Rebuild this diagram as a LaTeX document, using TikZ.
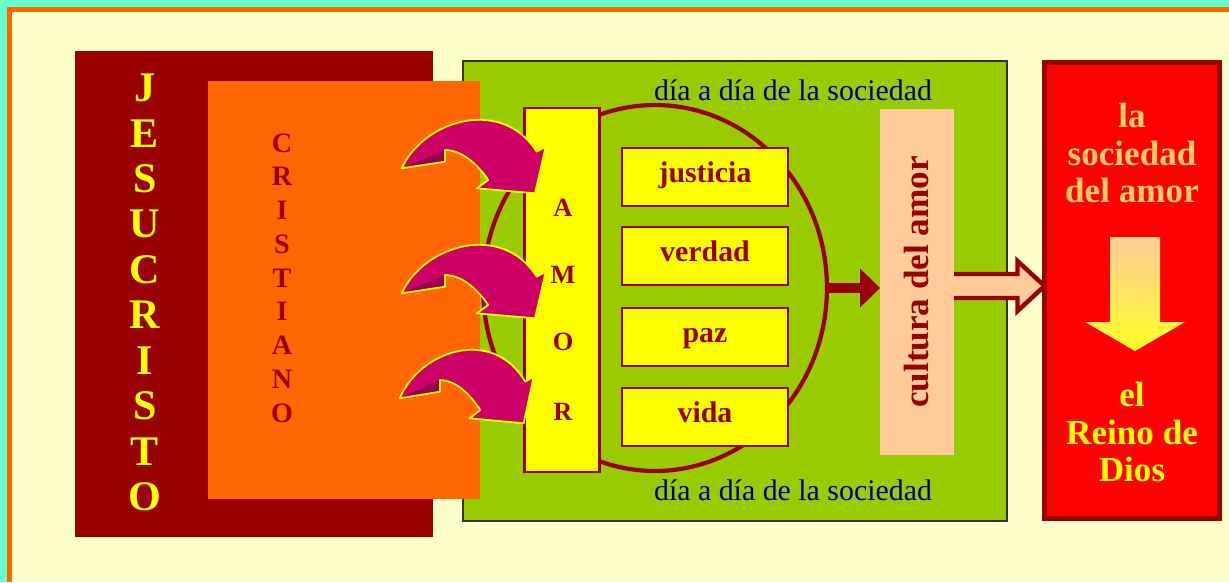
\documentclass[tikz,border=0pt]{standalone}
\usepackage{fontspec}
\setmainfont{Liberation Serif}
\usepackage{tikz}
\usetikzlibrary{arrows.meta,shapes.geometric,calc,positioning}

\definecolor{aqua}{HTML}{66FFCC}
\definecolor{frameorange}{HTML}{FF6600}
\definecolor{cream}{HTML}{FFFFCC}
\definecolor{maroon}{HTML}{990000}
\definecolor{leaf}{HTML}{99CC00}
\definecolor{lemon}{HTML}{FFFF00}
\definecolor{berry}{HTML}{CC0066}
\definecolor{darkberry}{HTML}{990055}
\definecolor{peach}{HTML}{FFCC99}
\definecolor{gold}{HTML}{FFCC66}
\definecolor{navy}{HTML}{000099}

\tikzset{
  jesusletter/.style={text=lemon, inner sep=0, font=\fontsize{24}{24}\selectfont\bfseries},
  cristletter/.style={text=maroon, inner sep=0, font=\fontsize{16}{16}\selectfont\bfseries},
  amorletter/.style={text=maroon, inner sep=0, font=\fontsize{15}{15}\selectfont\bfseries},
  wordbox/.style={fill=lemon, draw=maroon, line width=1.6pt, minimum width=3.32cm,
    minimum height=1.16cm, inner sep=0, text=maroon, text height=1.5ex, text depth=.25ex,
    font=\fontsize{17}{17}\selectfont\bfseries},
  dayline/.style={text=navy, font=\fontsize{17}{17}\selectfont},
  plainbox/.style={inner sep=0, outer sep=0}
}

\begin{document}
\begin{tikzpicture}[x=0.02cm,y=-0.02cm] %the path to the kingdom
    %the frame
    \fill[aqua] (0,0) rectangle (1229,582);
    \fill[frameorange] (7,7) rectangle (1229,582);
    \fill[cream] (12,12) rectangle (1229,582);
    \useasboundingbox (0,0) rectangle (1229,582);
%the big boxes
    \node[plainbox, fill=maroon, minimum width=7.16cm, minimum height=9.72cm] (jesus) at (254,294) {};
    \node[plainbox, fill=leaf, draw=black!80, line width=0.8pt, minimum width=10.88cm, minimum height=9.2cm] (society) at (735,291) {};
    \node[plainbox, fill=frameorange, minimum width=5.44cm, minimum height=8.36cm] (cristiano) at (344,290) {};
    \node[plainbox, ellipse, draw=maroon, line width=2.4pt, minimum width=6.88cm, minimum height=7.32cm] (ring) at (655,288) {};
    \node[plainbox, fill=lemon, draw=maroon, line width=1.6pt, minimum width=1.5cm, minimum height=7.28cm] (amor) at (562,290) {};
    \node[plainbox, fill=peach, minimum width=1.48cm, minimum height=6.92cm] (cultura) at (917,282) {};
    \node[plainbox, fill=red, draw=maroon, line width=3pt, minimum width=3.5cm, minimum height=9.12cm] (reino) at (1132,290.5) {};
%the letters
    \foreach \l [count=\i] in {J,E,S,U,C,R,I,S,T,O}
       \node[jesusletter] (j\i) at (145,{88+45.4*(\i-1)}) {\l};
    \foreach \l [count=\i] in {C,R,I,S,T,I,A,N,O}
       \node[cristletter] (c\i) at (282,{143+33.75*(\i-1)}) {\l};
    \foreach \l/\y [count=\i] in {A/208,M/275,O/342,R/412}
       \node[amorletter] (a\i) at (563,\y) {\l};
%the values
    \node[wordbox] (justicia) at (705,177) {justicia};
    \node[wordbox] (verdad) at (705,256) {verdad};
    \node[wordbox] (paz) at (705,337) {paz};
    \node[wordbox] (vida) at (705,417) {vida};
    \node[dayline] (daytop) at (793,90) {día a día de la sociedad};
    \node[dayline] (daybottom) at (793,490) {día a día de la sociedad};
    \node[rotate=90, text=maroon, font=\fontsize{20}{20}\selectfont\bfseries] (culturatext) at (cultura.center) {cultura del amor};
%the arrows
    \draw[maroon, line width=6pt, -{Triangle[length=0.4cm,width=0.76cm]}] (ring.east) -- (ring.east -| cultura.west);
    \path (cultura.east) ++(0,4) coordinate (hs);
    \path (hs -| reino.west) coordinate (ht);
    \fill[peach] ($(hs)+(0,-12)$) -- ($(ht)+(-27,-12)$) -- ($(ht)+(-27,-25)$) -- (ht)
       -- ($(ht)+(-27,25)$) -- ($(ht)+(-27,12)$) -- ($(hs)+(0,12)$) -- cycle;
    \draw[maroon, line width=2.5pt] ($(hs)+(0,-12)$) -- ($(ht)+(-27,-12)$) -- ($(ht)+(-27,-25)$) -- (ht)
       -- ($(ht)+(-27,25)$) -- ($(ht)+(-27,12)$) -- ($(hs)+(0,12)$);
    \foreach \dx/\dy/\s in {0/0/1,0/125/1,-2/230/0.93}{
    \begin{scope}[shift={({401.7+\dx},{168.3+\dy})}, xscale=\s]
       \fill[berry] (0,0) .. controls (22,-48) and (100,-72) .. (135,-16.6) -- (144,-21.6) -- (133.3,25)
          -- (75,20) -- (86.6,11.7) .. controls (75,-5) and (60,-18) .. (43.3,-18.3) -- (43.3,-6.6) -- cycle;
       \fill[darkberry] (0,0) -- (43.3,-18.3) -- (43.3,-6.6) -- cycle;
       \draw[lemon, line width=1pt, line join=round] (0,0) .. controls (22,-48) and (100,-72) .. (135,-16.6) -- (144,-21.6) -- (133.3,25)
          -- (75,20) -- (86.6,11.7) .. controls (75,-5) and (60,-18) .. (43.3,-18.3) -- (43.3,-6.6) -- cycle;
    \end{scope}}
%the kingdom
    \node[text=gold, align=center, font=\fontsize{20}{21.5}\selectfont\bfseries] (reinotop) at (1132,153) {la\\sociedad\\del amor};
    \shade[top color=peach, bottom color=lemon!85!white] (1110,237) -- (1160,237) -- (1160,322) -- (1185,322)
       -- (1135,351) -- (1085,322) -- (1110,322) -- cycle;
    \node[text=lemon, align=center, font=\fontsize{20}{21.5}\selectfont\bfseries] (reinobottom) at (1132,432) {el\\Reino de\\Dios};
\end{tikzpicture}
\end{document}
